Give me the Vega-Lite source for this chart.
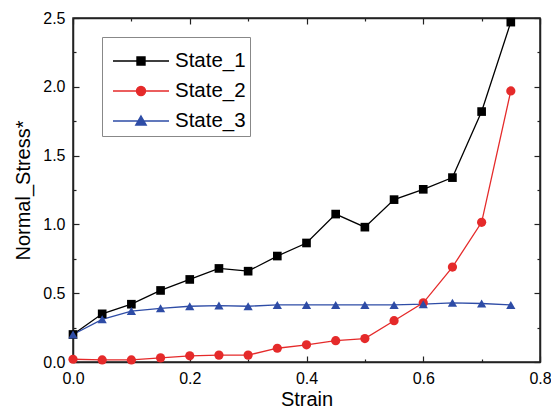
{
  "$schema": "https://vega.github.io/schema/vega-lite/v6.json",
  "width": 467,
  "height": 344,
  "autosize": {"type": "none"},
  "padding": {"left": 73, "top": 18, "right": 11, "bottom": 48},
  "background": "white",
  "config": {
    "font": "Liberation Sans",
    "view": {"stroke": "#222", "strokeWidth": 1.5},
    "axis": {
      "grid": false,
      "domainColor": "#222",
      "domainWidth": 1.5,
      "tickColor": "#222",
      "tickWidth": 1.2,
      "labelFont": "Liberation Sans",
      "labelFontSize": 16,
      "labelColor": "black",
      "labelFlush": false,
      "labelOverlap": false,
      "labelBound": false,
      "titleFont": "Liberation Sans",
      "titleFontSize": 20,
      "titleFontWeight": "normal",
      "titleColor": "black"
    }
  },
  "data": {
    "values": [
      {"Strain": 0.0, "Stress": 0.20, "Series": "State_1"},
      {"Strain": 0.05, "Stress": 0.35, "Series": "State_1"},
      {"Strain": 0.1, "Stress": 0.42, "Series": "State_1"},
      {"Strain": 0.15, "Stress": 0.52, "Series": "State_1"},
      {"Strain": 0.2, "Stress": 0.60, "Series": "State_1"},
      {"Strain": 0.25, "Stress": 0.68, "Series": "State_1"},
      {"Strain": 0.3, "Stress": 0.66, "Series": "State_1"},
      {"Strain": 0.35, "Stress": 0.77, "Series": "State_1"},
      {"Strain": 0.4, "Stress": 0.865, "Series": "State_1"},
      {"Strain": 0.45, "Stress": 1.075, "Series": "State_1"},
      {"Strain": 0.5, "Stress": 0.98, "Series": "State_1"},
      {"Strain": 0.55, "Stress": 1.18, "Series": "State_1"},
      {"Strain": 0.6, "Stress": 1.255, "Series": "State_1"},
      {"Strain": 0.65, "Stress": 1.34, "Series": "State_1"},
      {"Strain": 0.7, "Stress": 1.82, "Series": "State_1"},
      {"Strain": 0.75, "Stress": 2.47, "Series": "State_1"},
      {"Strain": 0.0, "Stress": 0.02, "Series": "State_2"},
      {"Strain": 0.05, "Stress": 0.015, "Series": "State_2"},
      {"Strain": 0.1, "Stress": 0.015, "Series": "State_2"},
      {"Strain": 0.15, "Stress": 0.03, "Series": "State_2"},
      {"Strain": 0.2, "Stress": 0.045, "Series": "State_2"},
      {"Strain": 0.25, "Stress": 0.05, "Series": "State_2"},
      {"Strain": 0.3, "Stress": 0.05, "Series": "State_2"},
      {"Strain": 0.35, "Stress": 0.10, "Series": "State_2"},
      {"Strain": 0.4, "Stress": 0.125, "Series": "State_2"},
      {"Strain": 0.45, "Stress": 0.155, "Series": "State_2"},
      {"Strain": 0.5, "Stress": 0.17, "Series": "State_2"},
      {"Strain": 0.55, "Stress": 0.30, "Series": "State_2"},
      {"Strain": 0.6, "Stress": 0.43, "Series": "State_2"},
      {"Strain": 0.65, "Stress": 0.69, "Series": "State_2"},
      {"Strain": 0.7, "Stress": 1.015, "Series": "State_2"},
      {"Strain": 0.75, "Stress": 1.97, "Series": "State_2"},
      {"Strain": 0.0, "Stress": 0.20, "Series": "State_3"},
      {"Strain": 0.05, "Stress": 0.31, "Series": "State_3"},
      {"Strain": 0.1, "Stress": 0.37, "Series": "State_3"},
      {"Strain": 0.15, "Stress": 0.39, "Series": "State_3"},
      {"Strain": 0.2, "Stress": 0.405, "Series": "State_3"},
      {"Strain": 0.25, "Stress": 0.41, "Series": "State_3"},
      {"Strain": 0.3, "Stress": 0.405, "Series": "State_3"},
      {"Strain": 0.35, "Stress": 0.415, "Series": "State_3"},
      {"Strain": 0.4, "Stress": 0.415, "Series": "State_3"},
      {"Strain": 0.45, "Stress": 0.415, "Series": "State_3"},
      {"Strain": 0.5, "Stress": 0.415, "Series": "State_3"},
      {"Strain": 0.55, "Stress": 0.415, "Series": "State_3"},
      {"Strain": 0.6, "Stress": 0.42, "Series": "State_3"},
      {"Strain": 0.65, "Stress": 0.43, "Series": "State_3"},
      {"Strain": 0.7, "Stress": 0.425, "Series": "State_3"},
      {"Strain": 0.75, "Stress": 0.415, "Series": "State_3"}
    ]
  },
  "resolve": {"axis": {"x": "independent", "y": "independent"}},
  "layer": [
    {
      "mark": {"type": "line", "strokeWidth": 1.3},
      "encoding": {
        "x": {
          "field": "Strain", "type": "quantitative",
          "scale": {"domain": [0, 0.8], "nice": false, "zero": false},
          "axis": {
            "orient": "bottom",
            "title": "Strain",
            "values": [0, 0.1, 0.2, 0.3, 0.4, 0.5, 0.6, 0.7, 0.8],
            "labelExpr": "round(datum.value*10)%2==0 ? format(datum.value,'.1f') : ''",
            "tickSize": {"condition": {"test": "round(datum.value*10)%2==0", "value": -6}, "value": -3},
            "labelPadding": 14,
            "titlePadding": 0
          }
        },
        "y": {
          "field": "Stress", "type": "quantitative",
          "scale": {"domain": [0, 2.5], "nice": false, "zero": false},
          "axis": {
            "orient": "left",
            "title": "Normal_Stress*",
            "values": [0, 0.25, 0.5, 0.75, 1, 1.25, 1.5, 1.75, 2, 2.25, 2.5],
            "labelExpr": "round(datum.value*4)%2==0 ? format(datum.value,'.1f') : ''",
            "tickSize": {"condition": {"test": "round(datum.value*4)%2==0", "value": -6}, "value": -3},
            "labelPadding": 14,
            "titlePadding": 9
          }
        },
        "color": {
          "field": "Series", "type": "nominal",
          "scale": {"domain": ["State_1", "State_2", "State_3"], "range": ["#000000", "#e52a2a", "#2e4ca6"]},
          "legend": {
            "orient": "none",
            "legendX": 29,
            "legendY": 19,
            "title": " ",
            "titleFontSize": 6,
            "titlePadding": 3,
            "padding": 4,
            "fillColor": "white",
            "strokeColor": "#888888",
            "symbolSize": 400,
            "symbolStrokeWidth": 1.4,
            "symbolOffset": 24,
            "labelOffset": 23,
            "labelFont": "Liberation Sans",
            "labelFontSize": 20.5,
            "labelColor": "black",
            "rowPadding": 8,
            "encode": {
              "symbols": {
                "update": {
                  "shape": {"signal": "datum.value == 'State_1' ? 'M-2.8,0H2.8M-0.4,-0.4H0.4V0.4H-0.4Z' : datum.value == 'State_2' ? 'M-2.8,0H2.8M0.45,0A0.45,0.45 0 1,1 -0.45,0A0.45,0.45 0 1,1 0.45,0Z' : 'M-2.8,0H2.8M0,-0.5L0.52,0.4H-0.52Z'"},
                  "fill": {"scale": "color", "field": "value"},
                  "stroke": {"scale": "color", "field": "value"},
                  "opacity": {"value": 1}
                }
              }
            }
          }
        }
      }
    },
    {
      "transform": [{"filter": "datum.Series == 'State_1'"}],
      "mark": {"type": "point", "filled": true, "opacity": 1, "size": 75, "shape": "square"},
      "encoding": {
        "x": {"field": "Strain", "type": "quantitative", "axis": null},
        "y": {"field": "Stress", "type": "quantitative", "axis": null},
        "color": {"field": "Series", "type": "nominal", "legend": null}
      }
    },
    {
      "transform": [{"filter": "datum.Series == 'State_2'"}],
      "mark": {"type": "point", "filled": true, "opacity": 1, "size": 85, "shape": "circle"},
      "encoding": {
        "x": {"field": "Strain", "type": "quantitative", "axis": null},
        "y": {"field": "Stress", "type": "quantitative", "axis": null},
        "color": {"field": "Series", "type": "nominal", "legend": null}
      }
    },
    {
      "transform": [{"filter": "datum.Series == 'State_3'"}],
      "mark": {"type": "point", "filled": true, "opacity": 1, "size": 85, "shape": "triangle-up"},
      "encoding": {
        "x": {"field": "Strain", "type": "quantitative", "axis": null},
        "y": {"field": "Stress", "type": "quantitative", "axis": null},
        "color": {"field": "Series", "type": "nominal", "legend": null}
      }
    },
    {
      "mark": {"type": "line", "opacity": 0},
      "encoding": {
        "x": {
          "field": "Strain", "type": "quantitative",
          "axis": {
            "orient": "top", "title": null, "labels": false,
            "values": [0, 0.1, 0.2, 0.3, 0.4, 0.5, 0.6, 0.7, 0.8],
            "tickSize": {"condition": {"test": "round(datum.value*10)%2==0", "value": -6}, "value": -3}
          }
        },
        "y": {
          "field": "Stress", "type": "quantitative",
          "axis": {
            "orient": "right", "title": null, "labels": false,
            "values": [0, 0.25, 0.5, 0.75, 1, 1.25, 1.5, 1.75, 2, 2.25, 2.5],
            "tickSize": {"condition": {"test": "round(datum.value*4)%2==0", "value": -6}, "value": -3}
          }
        },
        "detail": {"field": "Series"}
      }
    }
  ]
}
